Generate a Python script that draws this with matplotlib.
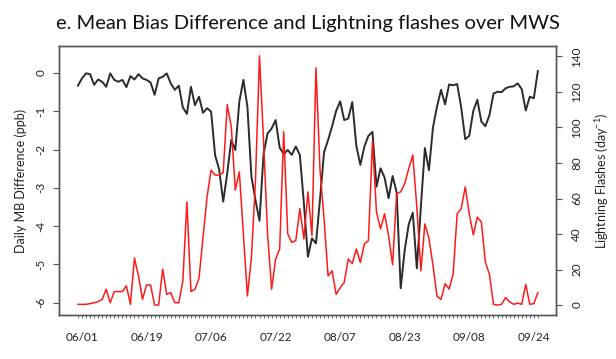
import matplotlib
matplotlib.use("Agg")
import matplotlib.pyplot as plt
import numpy as np

plt.rcParams['font.family'] = ['Lato', 'DejaVu Sans']
plt.rcParams['mathtext.fontset'] = 'custom'
plt.rcParams['mathtext.rm'] = 'Lato'
plt.rcParams['mathtext.it'] = 'Lato:italic'

# ---- data -------------------------------------------------------------
date_labels = ["06/01", "06/19", "07/06", "07/22", "08/07", "08/23", "09/08", "09/24"]
label_days = [1, 17, 33, 49, 65, 81, 97, 113]

mb_diff = [
    -0.33, -0.14, -0.01, -0.03, -0.31, -0.17, -0.23, -0.36, -0.01, -0.18,
    -0.23, -0.18, -0.37, -0.08, -0.17, -0.03, -0.14, -0.18, -0.25, -0.57,
    -0.14, -0.10, -0.01, -0.27, -0.44, -0.33, -0.90, -1.07, -0.36, -0.84,
    -0.62, -1.04, -0.92, -1.01, -2.15, -2.52, -3.36, -2.62, -1.75, -2.01,
    -0.75, -0.18, -0.88, -2.71, -3.32, -3.86, -2.12, -1.58, -1.45, -1.23,
    -1.95, -2.12, -2.01, -2.14, -1.92, -2.14, -3.40, -4.80, -4.32, -4.45,
    -3.30, -2.07, -1.75, -1.39, -0.99, -0.74, -1.23, -1.19, -0.76, -1.90,
    -2.40, -1.92, -1.64, -1.54, -2.97, -2.49, -2.73, -3.27, -2.69, -3.12,
    -5.62, -4.62, -3.95, -3.65, -5.10, -3.50, -1.96, -2.54, -1.42, -0.88,
    -0.44, -0.82, -0.30, -0.32, -0.29, -0.90, -1.73, -1.64, -0.99, -0.70,
    -1.27, -1.39, -1.10, -0.54, -0.49, -0.50, -0.40, -0.36, -0.35, -0.27,
    -0.42, -0.98, -0.62, -0.66, 0.05,
]

flashes = [
    0.4, 0.4, 0.4, 0.8, 1.3, 1.9, 3.2, 8.9, 1.3, 7.6,
    7.6, 7.6, 10.8, 0.4, 26.5, 16.4, 3.2, 11.3, 11.3, 0.0,
    0.0, 20.2, 6.0, 7.0, 1.3, 1.3, 13.6, 58.0, 7.6, 8.9,
    15.1, 38.2, 60.9, 76.0, 73.2, 73.2, 74.5, 112.9, 100.6, 64.7,
    75.0, 40.1, 5.1, 26.8, 70.0, 140.3, 93.0, 40.1, 8.9, 25.9,
    31.6, 97.7, 40.1, 35.3, 36.3, 54.3, 37.2, 63.7, 39.1, 133.6,
    76.0, 48.6, 16.4, 19.3, 6.0, 9.8, 12.7, 25.9, 23.4, 31.6,
    24.0, 34.4, 36.3, 92.1, 52.4, 42.9, 51.4, 39.1, 22.7, 62.8,
    63.7, 68.4, 76.9, 84.5, 55.2, 19.3, 45.7, 37.6, 22.5, 5.0,
    3.2, 12.0, 9.0, 17.4, 51.4, 54.3, 66.5, 51.4, 39.5, 49.5,
    46.7, 24.0, 17.4, 0.4, 0.0, 0.4, 4.2, 1.9, 0.4, 1.1,
    0.4, 11.7, 0.4, 0.8, 7.0,
]

mb_ticks = [0, -1, -2, -3, -4, -5, -6]
flash_ticks = [0, 20, 40, 60, 80, 100, 120, 140]

days = np.arange(len(mb_diff))

# ---- figure -----------------------------------------------------------
fig = plt.figure(figsize=(6.16, 3.59), dpi=100)
ax = fig.add_axes([0.0958, 0.1226, 0.8068, 0.7493])
frame_col = '#555555'

ax.plot(days, mb_diff, color='#2b2b2b', lw=1.4)
ax.set_xlim(-4.7, 118.5)
ax.set_ylim(-6.32, 0.705)

ax2 = ax.twinx()
ax2.plot(days, flashes, color='#ff1a1a', lw=1.1)
ax2.set_ylim(-5.6, 145.9)

for a in (ax, ax2):
    for s in a.spines.values():
        s.set_color(frame_col)
        s.set_linewidth(1.0)

ax.set_yticks(mb_ticks)
ax.set_yticklabels([str(t) for t in mb_ticks], rotation=90, va='center')
ax.tick_params(axis='y', length=4, width=0.8, color=frame_col, pad=5,
               labelsize=8.5, labelcolor='#222222')

ax2.set_yticks(flash_ticks)
ax2.set_yticklabels([str(t) for t in flash_ticks], rotation=90, va='center')
ax2.tick_params(axis='y', length=4, width=0.8, color=frame_col, pad=7,
                labelsize=8.5, labelcolor='#222222')

ax.set_xticks(label_days)
ax.set_xticklabels(date_labels)
ax.set_xticks(days, minor=True)
ax.tick_params(axis='x', which='major', length=2.5, width=0.6, color=frame_col,
               pad=10, labelsize=8.5, labelcolor='#222222')
ax.tick_params(axis='x', which='minor', length=2.5, width=0.6, color=frame_col)

ax.set_ylabel('Daily MB Difference (ppb)', fontsize=9, color='#222222', labelpad=6)
ax2.set_ylabel('Lightning Flashes (day$^{-1}$)', fontsize=9, color='#222222', labelpad=8)

fig.text(0.5, 1 - 24 / 359, 'e. Mean Bias Difference and Lightning flashes over MWS',
         ha='center', va='center', fontsize=14.5, color='#111111')

fig.savefig('out.png', dpi=100, facecolor='white')
